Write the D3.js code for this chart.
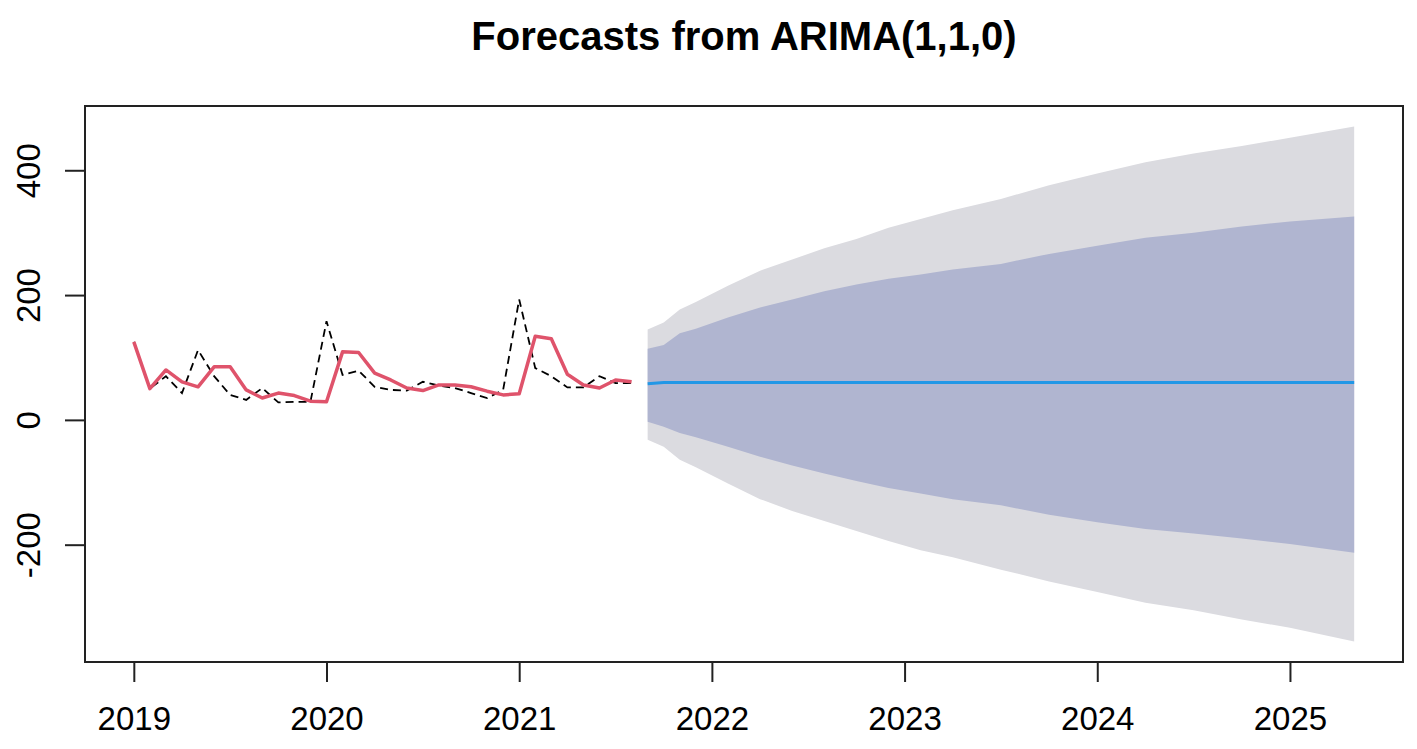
<!DOCTYPE html>
<html>
<head>
<meta charset="utf-8">
<script src="https://cdn.jsdelivr.net/npm/d3@7/dist/d3.min.js"></script>
<style>
  html, body { margin: 0; padding: 0; background: #fff; }
  svg { display: block; font-family: "Liberation Sans", Arial, sans-serif; }
</style>
</head>
<body>
<svg id="chart"></svg>
<script>
/* ARIMA(1,1,0) forecast plot, R forecast-package look. */

// monthly observations, Jan 2019 .. Aug 2021
var histStart = "2019-01";
var actual = [125, 50, 70, 43, 112, 70, 40, 32, 51, 28, 29, 29,
              158, 72, 79, 53, 48, 47, 61, 55, 51, 43, 35, 48,
              193, 83, 70, 52, 52, 70, 59, 59];
var fitted = [125, 50, 80, 61, 53, 85, 85, 48, 35, 43, 39, 30,
              29, 109, 108, 75, 64, 51, 47, 56, 56, 53, 46, 40,
              42, 134, 130, 73, 56, 51, 64, 61];

// forecast horizon (read at these months)
var fcMonths = ["2021-09", "2021-10", "2021-11", "2021-12", "2022-02", "2022-04",
                "2022-06", "2022-08", "2022-10", "2022-12", "2023-02", "2023-04",
                "2023-07", "2023-10", "2024-01", "2024-04", "2024-07", "2024-10",
                "2025-01", "2025-05"];
var fcMean = [58, 60, 60, 60, 60, 60, 60, 60, 60, 60, 60, 60, 60, 60, 60, 60, 60, 60, 60, 60];
var hi95 = [145, 156, 177, 189, 215, 239, 257, 275, 290, 308, 322, 336, 354, 376, 395, 413, 427, 439, 452, 470];
var hi80 = [114, 120, 139, 146, 164, 180, 193, 206, 217, 226, 233, 241, 250, 266, 279, 292, 300, 310, 318, 326];
var lo80 = [-3, -11, -21, -28, -43, -59, -73, -86, -98, -109, -118, -127, -137, -152, -164, -175, -182, -190, -199, -213];
var lo95 = [-32, -43, -64, -76, -102, -127, -146, -162, -178, -194, -209, -220, -240, -259, -276, -293, -305, -320, -333, -355];

var xTicks = [2019, 2020, 2021, 2022, 2023, 2024, 2025];
var yTicks = [-200, 0, 200, 400];
var title = "Forecasts from ARIMA(1,1,0)";

function toYear(s) {
  var p = s.split("-");
  return +p[0] + (+p[1] - 1) / 12;
}

var t0 = toYear(histStart);
var hist = actual.map(function (v, i) {
  return { t: t0 + i / 12, actual: v, fitted: fitted[i] };
});
var fc = fcMonths.map(function (m, i) {
  return { t: toYear(m), mean: fcMean[i], hi95: hi95[i], hi80: hi80[i], lo80: lo80[i], lo95: lo95[i] };
});

var W = 1417, H = 749;
var plotL = 85, plotR = 1403, plotT = 106, plotB = 662;

// R-style 4% padding around the data range
var tExt = d3.extent(hist.map(function (d) { return d.t; }).concat(fc.map(function (d) { return d.t; })));
var vAll = actual.concat(fitted, hi95, lo95);
var vExt = d3.extent(vAll);
var tPad = (tExt[1] - tExt[0]) * 0.04;
var vPad = (vExt[1] - vExt[0]) * 0.04;

var x = d3.scaleLinear().domain([tExt[0] - tPad, tExt[1] + tPad]).range([plotL, plotR]);
var y = d3.scaleLinear().domain([vExt[0] - vPad, vExt[1] + vPad]).range([plotB, plotT]);

var svg = d3.select("#chart").attr("width", W).attr("height", H);

svg.append("rect").attr("width", W).attr("height", H).attr("fill", "#fff");

// prediction bands
var band = function (lo, hi) {
  return d3.area()
    .x(function (d) { return x(d.t); })
    .y0(function (d) { return y(d[lo]); })
    .y1(function (d) { return y(d[hi]); });
};
svg.append("path").datum(fc).attr("d", band("lo95", "hi95")).attr("fill", "#dbdbe0");
svg.append("path").datum(fc).attr("d", band("lo80", "hi80")).attr("fill", "#b0b5d0");

// observed (dashed) and fitted (red)
var line = function (key) {
  return d3.line().x(function (d) { return x(d.t); }).y(function (d) { return y(d[key]); });
};
svg.append("path").datum(hist).attr("d", line("actual"))
  .attr("fill", "none").attr("stroke", "#000").attr("stroke-width", 1.8)
  .attr("stroke-dasharray", "8,5");
svg.append("path").datum(hist).attr("d", line("fitted"))
  .attr("fill", "none").attr("stroke", "#df536b").attr("stroke-width", 3.5)
  .attr("stroke-linejoin", "round");

// point forecast
svg.append("path").datum(fc).attr("d", line("mean"))
  .attr("fill", "none").attr("stroke", "#2297e6").attr("stroke-width", 3);

// box
svg.append("rect")
  .attr("x", plotL).attr("y", plotT)
  .attr("width", plotR - plotL).attr("height", plotB - plotT)
  .attr("fill", "none").attr("stroke", "#222").attr("stroke-width", 2);

// x axis
var xAxis = d3.axisBottom(x).tickValues(xTicks).tickSize(20).tickPadding(25)
  .tickFormat(String);
var gx = svg.append("g").attr("transform", "translate(0," + plotB + ")").call(xAxis);
gx.select(".domain").remove();
gx.selectAll(".tick line").attr("stroke", "#222").attr("stroke-width", 2);
gx.selectAll(".tick text").attr("fill", "#000").style("font-size", "33px")
  .attr("dy", "0.71em");

// y axis, labels rotated like R's las=0 (plain hyphen minus, as R prints)
var yAxis = d3.axisLeft(y).tickValues(yTicks).tickSize(20).tickFormat(String);
var gy = svg.append("g").attr("transform", "translate(" + plotL + ",0)").call(yAxis);
gy.select(".domain").remove();
gy.selectAll(".tick line").attr("stroke", "#222").attr("stroke-width", 2);
gy.selectAll(".tick text")
  .attr("x", null).attr("dy", null)
  .attr("text-anchor", "middle")
  .attr("transform", "translate(-45,0) rotate(-90)")
  .attr("fill", "#000").style("font-size", "33px");

// title
svg.append("text")
  .attr("x", (plotL + plotR) / 2).attr("y", 50)
  .attr("text-anchor", "middle")
  .style("font-size", "40px").style("font-weight", "bold")
  .text(title);
</script>
</body>
</html>
